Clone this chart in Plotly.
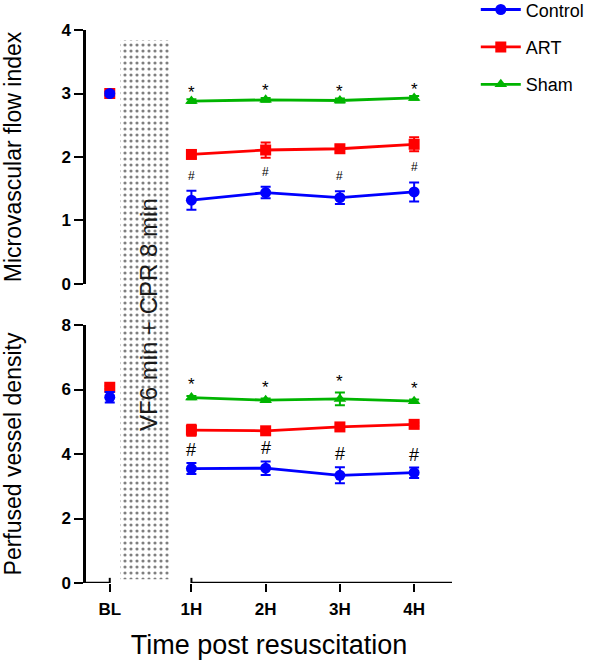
import plotly.graph_objects as go

# ---------------- data ----------------
hours = ["1H", "2H", "3H", "4H"]
bl_label = "BL"
groups = ["Control", "ART", "Sham"]

# Microvascular flow index (top panel)
mfi_bl = {"Control": 3.00, "ART": 3.00}
mfi_bl_err = {"Control": 0.03, "ART": 0.03}
mfi_control = [1.32, 1.44, 1.36, 1.45]
mfi_control_err = [0.15, 0.09, 0.10, 0.15]
mfi_art = [2.04, 2.11, 2.13, 2.20]
mfi_art_err = [0.06, 0.12, 0.06, 0.11]
mfi_sham = [2.88, 2.90, 2.89, 2.93]
mfi_sham_err = [0.03, 0.03, 0.03, 0.03]

# Perfused vessel density (bottom panel)
pvd_bl = {"Control": 5.76, "ART": 6.07}
pvd_bl_err = {"Control": 0.16, "ART": 0.05}
pvd_control = [3.55, 3.56, 3.34, 3.42]
pvd_control_err = [0.17, 0.21, 0.25, 0.16]
pvd_art = [4.74, 4.72, 4.84, 4.92]
pvd_art_err = [0.17, 0.05, 0.08, 0.05]
pvd_sham = [5.75, 5.67, 5.71, 5.64]
pvd_sham_err = [0.05, 0.05, 0.20, 0.05]

star_mark = "*"
hash_mark = "#"
event_label = "VF6 min + CPR 8 min"

# ---------------- styling ----------------
colors = {"Control": "#0000ff", "ART": "#ff0000", "Sham": "#00b400"}
symbols = {"Control": "circle", "ART": "square", "Sham": "triangle-up"}
FONT = "Liberation Sans, Arial, sans-serif"
BL_POS = -0.10
X_MIN, X_MAX = -0.42, 4.51
hour_pos = list(range(1, len(hours) + 1))

series = {
    "mfi": {"Control": (mfi_control, mfi_control_err),
            "ART": (mfi_art, mfi_art_err),
            "Sham": (mfi_sham, mfi_sham_err)},
    "pvd": {"Control": (pvd_control, pvd_control_err),
            "ART": (pvd_art, pvd_art_err),
            "Sham": (pvd_sham, pvd_sham_err)},
}
bl_vals = {"mfi": (mfi_bl, mfi_bl_err), "pvd": (pvd_bl, pvd_bl_err)}
axes_of = {"mfi": ("x2", "y2"), "pvd": ("x", "y")}

fig = go.Figure()

# hatched event band (spans both panels)
fig.add_trace(go.Bar(
    x=[0.375], y=[0.975], base=[0.007], width=[0.673],
    xaxis="x", yaxis="y3",
    marker=dict(color="white", line=dict(width=0),
                pattern=dict(shape=".", fgcolor="#000000", bgcolor="white",
                             size=6, solidity=0.22)),
    showlegend=False, hoverinfo="skip",
))

draw_order = ["Sham", "ART", "Control"]
rank = {g: i + 1 for i, g in enumerate(groups)}
for panel in ["mfi", "pvd"]:
    xa, ya = axes_of[panel]
    for g in draw_order:
        vals, errs = series[panel][g]
        fig.add_trace(go.Scatter(
            x=hour_pos, y=vals, mode="lines+markers", name=g,
            xaxis=xa, yaxis=ya,
            line=dict(color=colors[g], width=2.8),
            marker=dict(symbol=symbols[g], size=11, color=colors[g]),
            error_y=dict(type="data", array=errs, color=colors[g],
                         thickness=2, width=5),
            legendgroup=g, legendrank=rank[g],
            showlegend=(panel == "pvd"),
        ))
    blv, ble = bl_vals[panel]
    for g in ["ART", "Control"]:
        fig.add_trace(go.Scatter(
            x=[BL_POS], y=[blv[g]], mode="markers", xaxis=xa, yaxis=ya,
            marker=dict(symbol=symbols[g], size=11, color=colors[g]),
            error_y=dict(type="data", array=[ble[g]], color=colors[g],
                         thickness=2, width=5),
            showlegend=False, legendgroup=g,
        ))

# significance marks
annotations = []
for panel, yref in [("mfi", "y2"), ("pvd", "y")]:
    sv, se = series[panel]["Sham"]
    cv, ce = series[panel]["Control"]
    xr = "x2" if panel == "mfi" else "x"
    for i, xp in enumerate(hour_pos):
        annotations.append(dict(
            x=xp, y=sv[i] + se[i], xref=xr, yref=yref, text=star_mark,
            showarrow=False, yshift=7 if panel == "mfi" else 11,
            font=dict(family=FONT, size=17, color="black")))
        annotations.append(dict(
            x=xp, y=cv[i] + ce[i], xref=xr, yref=yref, text=hash_mark,
            showarrow=False, yshift=15 if panel == "mfi" else 13,
            font=dict(family=FONT, size=12 if panel == "mfi" else 18, color="black")))

annotations.append(dict(
    x=0.415, y=0.4864, xref="x", yref="paper", text=event_label,
    textangle=-90, showarrow=False,
    font=dict(family=FONT, size=24, color="#1a1a1a")))

# broken x axis line with end caps
shapes = [
    dict(type="line", xref="x", yref="y", x0=X_MIN, x1=BL_POS, y0=0, y1=0,
         line=dict(color="black", width=2.5)),
    dict(type="line", xref="x", yref="y", x0=hour_pos[0], x1=X_MAX, y0=0, y1=0,
         line=dict(color="black", width=2.5)),
    dict(type="line", xref="x", yref="y", x0=BL_POS, x1=BL_POS, y0=0, y1=0.16,
         line=dict(color="black", width=2)),
    dict(type="line", xref="x", yref="y", x0=hour_pos[0], x1=hour_pos[0], y0=0, y1=0.16,
         line=dict(color="black", width=2)),
]

tickfont = dict(family=FONT, size=17, color="black", weight="bold")
title_font = dict(family=FONT, size=23, color="black")
yax_common = dict(showline=True, linewidth=2.5, linecolor="black",
                  ticks="outside", ticklen=9, tickwidth=2, tickcolor="black",
                  showgrid=False, zeroline=False, tickfont=tickfont,
                  automargin=False)

fig.update_layout(
    width=592, height=663,
    margin=dict(l=86, r=140, t=30, b=80, autoexpand=False),
    paper_bgcolor="white", plot_bgcolor="rgba(0,0,0,0)",
    font=dict(family=FONT, color="black"),
    xaxis=dict(range=[X_MIN, X_MAX], anchor="y",
               tickvals=[BL_POS] + hour_pos, ticktext=[bl_label] + hours,
               showline=False, ticks="outside", ticklen=8, tickwidth=2,
               tickcolor="black", showgrid=False, zeroline=False,
               tickfont=tickfont, automargin=False, ticklabelstandoff=3,
               title=dict(text="Time post resuscitation",
                          font=dict(family=FONT, size=27, color="black"),
                          standoff=16)),
    yaxis=dict(domain=[0, 0.4665], range=[0, 8], dtick=2, anchor="x",
               title=dict(text="Perfused vessel density", font=title_font, standoff=36),
               **yax_common),
    xaxis2=dict(matches="x", anchor="y2", visible=False),
    yaxis2=dict(domain=[0.5407, 1], range=[0, 4], dtick=1, anchor="x2",
                title=dict(text="Microvascular flow index", font=title_font, standoff=36),
                **yax_common),
    yaxis3=dict(domain=[0, 1], range=[0, 1], anchor="x", visible=False),
    legend=dict(x=1.065, y=1.07, xanchor="left", yanchor="top",
                traceorder="grouped", tracegroupgap=11, itemwidth=40,
                font=dict(family=FONT, size=18, color="black"),
                bgcolor="rgba(0,0,0,0)"),
    annotations=annotations,
    shapes=shapes,
    showlegend=True,
)

fig.write_html("out.html")
